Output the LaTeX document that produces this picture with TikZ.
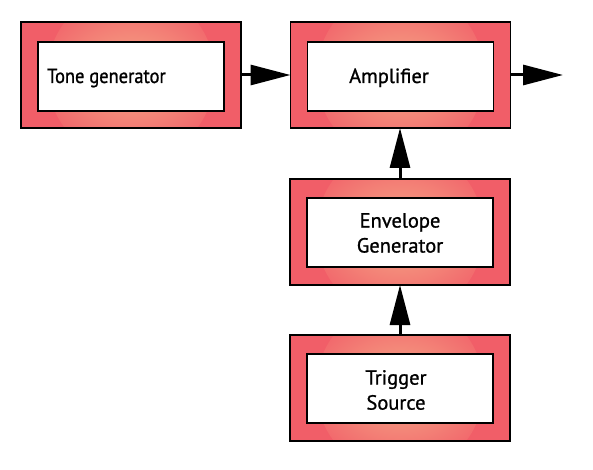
\documentclass[tikz,border=0pt]{standalone}
\usepackage{fontspec}
\setmainfont{PT Sans}[FakeBold=1]
\usetikzlibrary{arrows.meta}
\definecolor{boxpink}{RGB}{241,94,104}
\definecolor{boxpeach}{RGB}{245,172,136}
\begin{document}
\begin{tikzpicture}[x=1pt,y=-1pt,
  outerbox/.style={draw=black, line width=1.5pt, fill=boxpink, minimum width=220pt, minimum height=106pt, inner sep=0pt, outer sep=0pt,
    path picture={\shade[inner color=boxpeach, outer color=boxpink] (path picture bounding box.center) ellipse [x radius=84pt, y radius=86pt];}},
  innerbox/.style={draw=black, line width=1.5pt, fill=white, minimum width=186pt, minimum height=69pt, inner sep=0pt, outer sep=0pt},
  label/.style={font=\fontsize{20.5}{25}\selectfont, inner sep=0pt, align=center},
  conn/.style={line width=3pt, -{Triangle[length=40pt,width=20pt]}}]
\useasboundingbox (0,0) rectangle (593,470);
% blocks
\node[outerbox] (toneo) at (131,75) {};
\node[innerbox] (tonei) at (131,76.5) {};
\node[label, anchor=base west] (tonet) at (47,83) {\addfontfeatures{FakeStretch=0.9}Tone generator};
\node[outerbox] (ampo) at (400.5,75) {};
\node[innerbox] (ampi) at (400.5,76.5) {};
\node[label, anchor=base] (ampt) at (389,83) {Amplifier};
\node[outerbox] (envo) at (400,232) {};
\node[innerbox] (envi) at (400,232.5) {};
\node[label] (envt) at (400,233) {Envelope\\Generator};
\node[outerbox] (trigo) at (400,388) {};
\node[innerbox] (trigi) at (400,388.5) {};
\node[label] (trigt) at (396,390) {Trigger\\Source};
% connectors
\coordinate (out) at (563,75);
\draw[conn] (toneo.east) -- (ampo.west);
\draw[conn] (ampo.east) -- (out);
\draw[conn] (envo.north) -- (envo.north |- ampo.south);
\draw[conn] (trigo.north) -- (envo.south);
\end{tikzpicture}
\end{document}
